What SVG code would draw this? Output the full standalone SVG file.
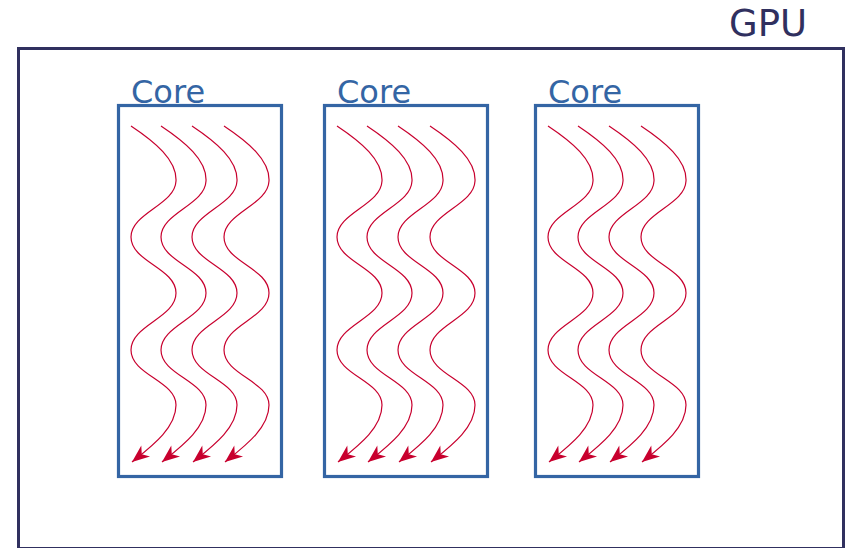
<svg xmlns="http://www.w3.org/2000/svg" xmlns:xlink="http://www.w3.org/1999/xlink" width="850" height="548" viewBox="0 0 850 548">
  <style>
    .gpu { fill: none; stroke: #30305f; stroke-width: 3; }
    .core { fill: none; stroke: #3465a4; stroke-width: 3.2; }
    .gpu-label { font-family: "DejaVu Sans", sans-serif; font-size: 37px; fill: #30305f; }
    .core-label { font-family: "DejaVu Sans", sans-serif; font-size: 32px; fill: #3465a4; }
    .thread { fill: none; stroke: #c8002e; stroke-width: 1.2; marker-end: url(#arrow); }
  </style>
  <defs>
    <marker id="arrow" markerUnits="userSpaceOnUse" viewBox="-19 -9 20 18" refX="0" refY="0" markerWidth="20" markerHeight="18" orient="auto">
      <path d="M0,0 L-17.5,-7 L-12.5,0 L-17.5,7 Z" fill="#c8002e"/>
    </marker>
    <!-- one wavy thread, drawn at the first lane of the first core -->
    <path id="wave" class="thread" d="M131,126 C155,142 177,160 176,181 C175,205 131,213 131,237 C131,262 176,268 176,293 C176,318 131,325 131,350 C131,375 176,381 176,405 C176,428 152,446 132,462"/>
  </defs>

  <g id="gpu">
    <rect class="gpu" x="18.5" y="48.5" width="825" height="500"/>
    <text class="gpu-label" x="729" y="36">GPU</text>
  </g>

  <g id="core-1">
    <rect class="core" x="118.5" y="105.5" width="163" height="371"/>
    <text class="core-label" x="131" y="103">Core</text>
  </g>
  <g id="core-2">
    <rect class="core" x="324.5" y="105.5" width="163" height="371"/>
    <text class="core-label" x="337" y="103">Core</text>
  </g>
  <g id="core-3">
    <rect class="core" x="535.5" y="105.5" width="163" height="371"/>
    <text class="core-label" x="548" y="103">Core</text>
  </g>

  <g id="threads">
    <use xlink:href="#wave" transform="translate(0,0)"/>
    <use xlink:href="#wave" transform="translate(30,0)"/>
    <use xlink:href="#wave" transform="translate(61,0)"/>
    <use xlink:href="#wave" transform="translate(93,0)"/>
    <use xlink:href="#wave" transform="translate(206,0)"/>
    <use xlink:href="#wave" transform="translate(236,0)"/>
    <use xlink:href="#wave" transform="translate(267,0)"/>
    <use xlink:href="#wave" transform="translate(299,0)"/>
    <use xlink:href="#wave" transform="translate(417,0)"/>
    <use xlink:href="#wave" transform="translate(447,0)"/>
    <use xlink:href="#wave" transform="translate(478,0)"/>
    <use xlink:href="#wave" transform="translate(510,0)"/>
  </g>
</svg>
